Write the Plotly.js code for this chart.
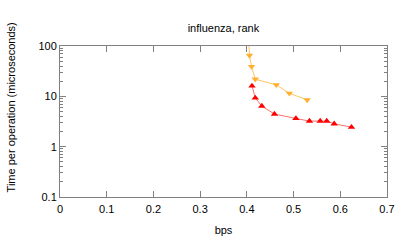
<!DOCTYPE html>
<html><head><meta charset="utf-8">
<script src="https://cdn.plot.ly/plotly-3.0.1.min.js"></script>
<style>html,body{margin:0;padding:0;background:#fff}#c{width:407px;height:244px}</style>
</head><body><div id="c"></div>
<script>
const rankA_x = [0.404, 0.4056, 0.410, 0.418, 0.463, 0.491, 0.529];
const rankA_y = [150, 65, 39, 21.9, 16.9, 11.5, 8.5];
const rankB_x = [0.411, 0.418, 0.432, 0.459, 0.505, 0.534, 0.557, 0.571, 0.587, 0.624];
const rankB_y = [16.1, 9.3, 6.4, 4.45, 3.63, 3.22, 3.22, 3.22, 2.84, 2.44];
const xTicks = [0, 0.1, 0.2, 0.3, 0.4, 0.5, 0.6, 0.7];
const yTicks = [0.1, 1, 10, 100];
const yTickText = ['0.1', '1', '10', '100'];

const font = {family: 'Liberation Sans, Arial, sans-serif', size: 11, color: '#000'};
const axisCommon = {showline: true, linecolor: '#808080', linewidth: 1, mirror: 'ticks',
  ticks: 'inside', ticklen: 6, tickcolor: '#808080', showgrid: false, zeroline: false,
  tickfont: font};

Plotly.newPlot('c', [
  {x: rankA_x, y: rankA_y, mode: 'lines+markers', showlegend: false,
   line: {color: '#ffc463', width: 1},
   marker: {symbol: 'triangle-down', size: 6.5, color: '#ffb030'}},
  {x: rankB_x, y: rankB_y, mode: 'lines+markers', showlegend: false,
   line: {color: '#ff7070', width: 1},
   marker: {symbol: 'triangle-up', size: 6.5, color: '#ff0000'}}
], {
  width: 407, height: 244,
  margin: {l: 60, r: 20, t: 46, b: 47},
  paper_bgcolor: '#fff', plot_bgcolor: '#fff',
  font: font,
  title: {text: 'influenza, rank', font: font, x: 0.549, xanchor: 'center', y: 0.885, yanchor: 'middle'},
  xaxis: Object.assign({}, axisCommon, {range: [0, 0.7], tickvals: xTicks,
    ticktext: xTicks.map(String), ticklabelstandoff: 2,
    title: {text: 'bps', font: font, standoff: 12}}),
  yaxis: Object.assign({}, axisCommon, {type: 'log', range: [-1, 2], tickvals: yTicks,
    ticktext: yTickText,
    minor: {ticks: 'inside', ticklen: 3, tickcolor: '#808080', dtick: 'D1', showgrid: false}}),
  annotations: [{text: 'Time per operation (microseconds)', textangle: -90, showarrow: false,
    xref: 'paper', yref: 'paper', x: -0.147, y: 0.593, xanchor: 'center', yanchor: 'middle',
    font: font}]
}, {staticPlot: true});
</script></body></html>
